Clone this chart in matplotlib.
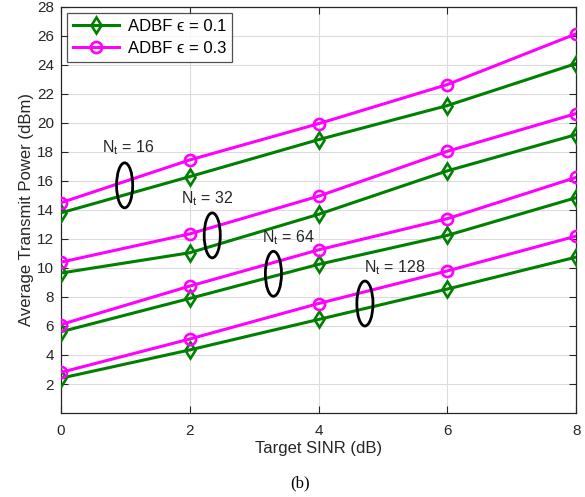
import matplotlib
matplotlib.use("Agg")
import matplotlib.pyplot as plt
from matplotlib.patches import Ellipse

plt.rcParams['font.family'] = ['Liberation Sans', 'DejaVu Sans']
plt.rcParams['mathtext.fontset'] = 'custom'
plt.rcParams['mathtext.rm'] = 'Liberation Sans'
plt.rcParams['mathtext.it'] = 'Liberation Sans:italic'

snr = [0, 2, 4, 6, 8]
# ADBF eps = 0.1 (green) and eps = 0.3 (magenta) for Nt = 16, 32, 64, 128
green_16 = [13.8, 16.3, 18.85, 21.2, 24.1]
mag_16 = [14.5, 17.45, 19.95, 22.65, 26.15]
green_32 = [9.65, 11.05, 13.7, 16.7, 19.2]
mag_32 = [10.4, 12.35, 14.95, 18.05, 20.65]
green_64 = [5.6, 7.9, 10.25, 12.25, 14.85]
mag_64 = [6.1, 8.75, 11.25, 13.4, 16.25]
green_128 = [2.4, 4.35, 6.45, 8.55, 10.75]
mag_128 = [2.8, 5.1, 7.55, 9.8, 12.2]

labels = ['16', '32', '64', '128']
ell_x = [0.99, 2.35, 3.30, 4.72]
ell_y = [15.7, 12.25, 9.6, 7.55]
txt_x = [0.64, 1.86, 3.12, 4.71]
txt_y = [18.3, 14.8, 12.1, 10.0]

fig = plt.figure(figsize=(5.85, 4.97), dpi=100)
ax = fig.add_axes([0.104, 0.169, 0.881, 0.817])

green = '#008000'
mag = '#ff00ff'
for i, (g, m) in enumerate([(green_16, mag_16), (green_32, mag_32),
                            (green_64, mag_64), (green_128, mag_128)]):
    ax.plot(snr, g, color=green, lw=2.2, marker='d', ms=8, mfc='none', mew=1.9,
            label='ADBF \u03f5 = 0.1' if i == 0 else None, zorder=3)
    ax.plot(snr, m, color=mag, lw=2.2, marker='o', ms=8, mfc='none', mew=1.9,
            label='ADBF \u03f5 = 0.3' if i == 0 else None, zorder=3)

for ex, ey, tx, ty, lab in zip(ell_x, ell_y, txt_x, txt_y, labels):
    ax.add_patch(Ellipse((ex, ey), 0.25, 3.1, fill=False, ec='black', lw=2, zorder=4))
    ax.text(tx, ty, r'N$_{\mathrm{t}}$ = ' + lab, fontsize=11.5, ha='left', va='center',
            color='#262626', zorder=5)

ax.set_xlim(0, 8)
ax.set_ylim(0, 28)
ax.set_xticks([0, 2, 4, 6, 8])
ax.set_yticks(list(range(2, 29, 2)))
ax.grid(True, color='#dcdcdc', lw=0.8)
ax.set_axisbelow(True)
ax.tick_params(direction='in', top=True, right=True, length=5, labelsize=11,
               colors='#262626')
ax.tick_params(axis='x', pad=8)
ax.tick_params(axis='y', pad=5)
for s in ax.spines.values():
    s.set_color('#262626')
    s.set_linewidth(0.9)
ax.set_xlabel('Target SINR (dB)', fontsize=12, color='#262626', labelpad=2)
ax.set_ylabel('Average Transmit Power (dBm)', fontsize=12, color='#262626', labelpad=2)

leg = ax.legend(loc='upper left', fontsize=12, frameon=True, fancybox=False,
                edgecolor='#262626', handlelength=2.8, borderpad=0.35,
                labelspacing=0.45, handletextpad=0.5, borderaxespad=0.35,
                bbox_to_anchor=(0.0, 1.0))
leg.get_frame().set_linewidth(0.9)

fig.text(0.513, 0.02, '(b)', fontsize=12, family='Liberation Serif', ha='center')

fig.savefig('out.png', dpi=100)
